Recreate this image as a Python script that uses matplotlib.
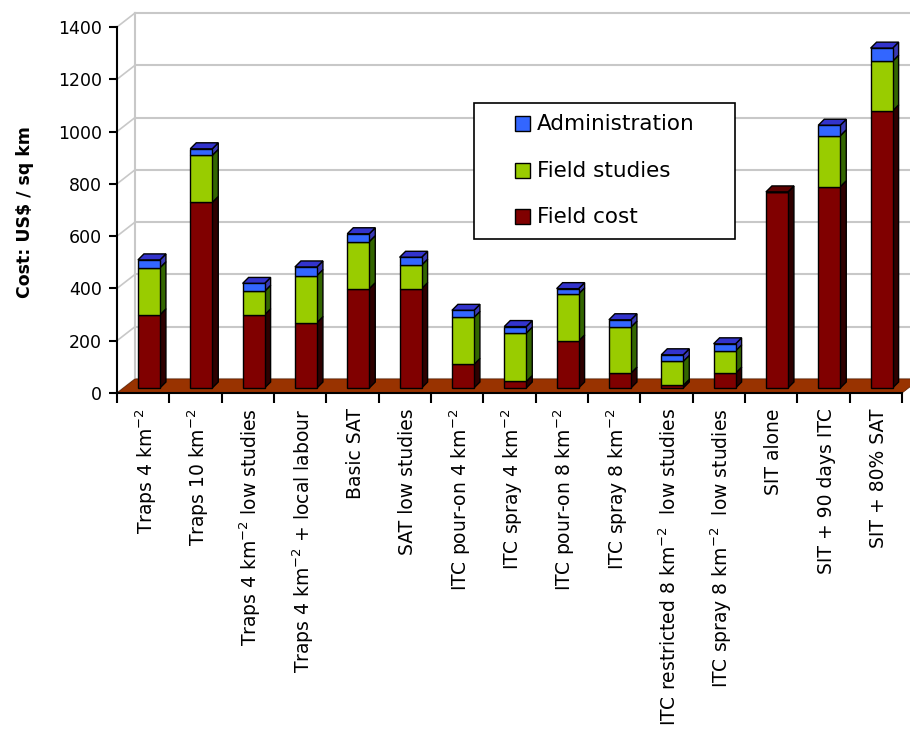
import matplotlib
matplotlib.use('Agg')
import matplotlib.pyplot as plt
from matplotlib.patches import Polygon, Rectangle
import numpy as np

plt.rcParams['font.family'] = ['DejaVu Sans']
plt.rcParams['mathtext.fontset'] = 'dejavusans'

# ---------------- data ----------------
categories = [r'Traps 4 km$^{-2}$', r'Traps 10 km$^{-2}$', r'Traps 4 km$^{-2}$ low studies',
              r'Traps 4 km$^{-2}$ + local labour', 'Basic SAT', 'SAT low studies',
              r'ITC pour-on 4 km$^{-2}$', r'ITC spray 4 km$^{-2}$', r'ITC pour-on 8 km$^{-2}$',
              r'ITC spray 8 km$^{-2}$', r'ITC restricted 8 km$^{-2}$  low studies',
              r'ITC spray 8 km$^{-2}$  low studies', 'SIT alone', 'SIT + 90 days ITC',
              'SIT + 80% SAT']
field_cost = [280, 710, 280, 250, 380, 380, 90, 25, 180, 57, 10, 57, 750, 770, 1060]
field_studies = [180, 180, 90, 180, 180, 90, 180, 185, 180, 176, 92, 85, 0, 195, 190]
administration = [30, 25, 30, 33, 30, 30, 27, 25, 20, 28, 25, 27, 0, 40, 50]
series_names = ['Field cost', 'Field studies', 'Administration']
y_ticks = [0, 200, 400, 600, 800, 1000, 1200, 1400]

# ---------------- styles ----------------
front_colors = ['#800000', '#99cc00', '#3366ff']
side_colors = ['#2e0000', '#336600', '#3a3ab4']
top_colors = ['#5c0000', '#557a00', '#3333cc']
grid_color = '#c8c8c8'
floor_color = '#993300'

W, H = 910, 740
fig = plt.figure(figsize=(W / 100, H / 100), dpi=100)
ax_l, ax_r, ax_t, ax_b = 117, 902, 27, 393
ax = fig.add_axes([ax_l / W, 1 - ax_b / H, (ax_r - ax_l) / W, (ax_b - ax_t) / H])
n = len(categories)
ax.set_xlim(0, n)
ax.set_ylim(0, 1400)

pxx = n / (ax_r - ax_l)          # data units per pixel (x)
pxy = 1400 / (ax_b - ax_t)       # data units per pixel (y)

# back wall offsets
wx, wy = 18 * pxx, 14 * pxy
for v in y_ticks:
    ax.plot([wx, n + wx + 1], [v + wy, v + wy], color=grid_color, lw=1.5, clip_on=False, zorder=0.5)
    ax.plot([0, wx], [v, v + wy], color=grid_color, lw=1.2, clip_on=False, zorder=0.5)
ax.plot([wx, wx], [wy, y_ticks[-1] + wy], color=grid_color, lw=1.5, clip_on=False, zorder=0.5)

# floor
ax.add_patch(Polygon([(0, 0), (n, 0), (n + wx, wy), (wx, wy)], closed=True,
                     facecolor=floor_color, edgecolor='#6a2400', lw=0.6, clip_on=False, zorder=1))

# bars with pseudo-3D faces
bx = 0.40              # left of front face inside category
bw = 22 * pxx          # bar width
by = 5 * pxy           # bar base offset (depth)
dx, dy = 6 * pxx, 6 * pxy
xs = np.arange(n) + bx
series = [np.array(field_cost, float), np.array(field_studies, float), np.array(administration, float)]
bottoms = np.zeros(n)
tops = sum(series)
for k, vals in enumerate(series):
    ax.bar(xs, vals, width=bw, bottom=bottoms + by, align='edge', color=front_colors[k],
           edgecolor='black', linewidth=1.0, zorder=3, label=series_names[k])
    for i in range(n):
        if vals[i] <= 0:
            continue
        y0 = bottoms[i] + by
        y1 = y0 + vals[i]
        xr = xs[i] + bw
        ax.add_patch(Polygon([(xr, y0), (xr + dx, y0 + dy), (xr + dx, y1 + dy), (xr, y1)],
                             closed=True, facecolor=side_colors[k], edgecolor='black',
                             lw=1.0, zorder=2.5))
        if abs(bottoms[i] + vals[i] - tops[i]) < 1e-9:
            ax.add_patch(Polygon([(xs[i], y1), (xs[i] + dx, y1 + dy), (xr + dx, y1 + dy), (xr, y1)],
                                 closed=True, facecolor=top_colors[k], edgecolor='black',
                                 lw=1.0, zorder=2.5, clip_on=False))
    bottoms = bottoms + vals

# axes styling
for s in ['top', 'right']:
    ax.spines[s].set_visible(False)
for s in ['left', 'bottom']:
    ax.spines[s].set_linewidth(1.5)
    ax.spines[s].set_zorder(4)
ax.set_yticks(y_ticks)
ax.set_yticklabels([str(v) for v in y_ticks], fontsize=12.5)
ax.tick_params(axis='y', length=6, width=1.5, pad=5)
ax.set_xticks(np.arange(n) + 0.55)
ax.set_xticklabels(categories, rotation=90, fontsize=13.5, va='top', ha='center')
ax.set_xticks(np.arange(n + 1), minor=True)
ax.tick_params(axis='x', which='major', length=0, pad=11)
ax.tick_params(axis='x', which='minor', length=7, width=1.5)
ax.set_ylabel('Cost: US$ / sq km', fontsize=12.5, fontweight='bold')
ax.yaxis.set_label_coords((34 - ax_l) / (ax_r - ax_l), 0.493)
ax.patch.set_visible(False)

# legend drawn as a box
def fx(p):
    return p / W

def fy(p):
    return 1 - p / H

fig.patches.append(Rectangle((fx(474), fy(239)), fx(735) - fx(474), fy(103) - fy(239),
                             transform=fig.transFigure, facecolor='white', edgecolor='black',
                             lw=1.2, zorder=10))
rows = [124, 171, 217]
for name, col, ry in zip(series_names[::-1], front_colors[::-1], rows):
    fig.patches.append(Rectangle((fx(515), fy(ry + 7)), fx(15), 15 / H, transform=fig.transFigure,
                                 facecolor=col, edgecolor='black', lw=1.0, zorder=11))
    fig.text(fx(537), fy(ry), name, fontsize=15.5, va='center', ha='left', zorder=12)

fig.savefig('out.png', dpi=100)
